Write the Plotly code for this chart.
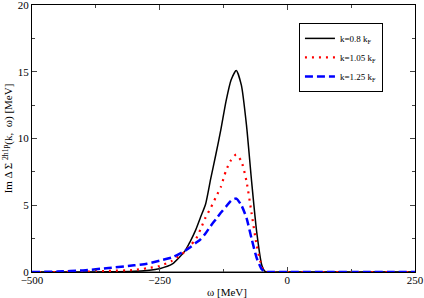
import plotly.graph_objects as go

omega = [-500, -450, -400, -350, -300, -275, -250, -225, -200, -190, -180, -170, -160, -150,
         -140, -130, -120, -110, -100, -90, -80, -70, -60, -50, -45, -40, 0, 250]
k08 = [0, 0, 0, 0.01, 0.05, 0.12, 0.25, 0.6, 1.6, 2.3, 3.1, 4.1, 5.1, 7.0,
       8.8, 10.7, 12.8, 14.4, 15.1, 14.0, 11.0, 6.8, 3.0, 0.5, 0.1, 0, 0, 0]
k105 = [0, 0, 0.02, 0.08, 0.15, 0.28, 0.45, 0.85, 1.55, 2.0, 2.4, 3.2, 4.1, 4.8,
        5.6, 6.4, 7.6, 8.4, 8.8, 8.3, 6.8, 4.4, 2.0, 0.4, 0.05, 0, 0, 0]
k125 = [0, 0.03, 0.12, 0.3, 0.5, 0.62, 0.85, 1.1, 1.6, 1.85, 2.15, 2.45, 2.9, 3.45,
        3.95, 4.45, 4.9, 5.35, 5.5, 5.0, 4.05, 2.5, 1.05, 0.2, 0.05, 0, 0, 0]

names = ["k=0.8 k<sub>F</sub>", "k=1.05 k<sub>F</sub>", "k=1.25 k<sub>F</sub>"]

fig = go.Figure()
fig.add_trace(go.Scatter(x=omega, y=k08, mode="lines", name=names[0],
                         line=dict(color="black", width=1.5, shape="spline", smoothing=0.6)))
fig.add_trace(go.Scatter(x=omega, y=k105, mode="lines", name=names[1],
                         line=dict(color="red", width=2.2, dash="2px,5px", shape="spline", smoothing=0.6)))
fig.add_trace(go.Scatter(x=omega, y=k125, mode="lines", name=names[2],
                         line=dict(color="blue", width=2.5, dash="8px,4px", shape="spline", smoothing=0.6)))

font_family = "Liberation Serif"
fig.add_shape(type="line", xref="paper", yref="y", x0=0, x1=1, y0=0, y1=0,
              line=dict(color="#888888", width=2), layer="below")

fig.add_annotation(text="ω [MeV]", xref="paper", yref="paper", x=0.51, y=0,
                   yshift=-20, xanchor="center", yanchor="middle", showarrow=False,
                   font=dict(family=font_family, size=11))

fig.update_layout(
    width=424, height=298,
    margin=dict(l=32, r=9, t=5, b=26, autoexpand=False),
    paper_bgcolor="white", plot_bgcolor="white",
    font=dict(family=font_family, size=11, color="black"),
    showlegend=True,
    legend=dict(x=0.697, y=0.933, xanchor="left", yanchor="top",
                bgcolor="white", bordercolor="black", borderwidth=1,
                font=dict(family=font_family, size=9),
                tracegroupgap=0, itemwidth=30),
)
fig.update_xaxes(range=[-500, 250], tickvals=[-500, -250, 0, 250],
                 ticks="inside", ticklen=5, tickcolor="#444",
                 minor=dict(tickvals=[-375, -125, 125], ticks="inside", ticklen=3, tickcolor="#444"),
                 showline=True, linecolor="black", linewidth=1, mirror="allticks",
                 showgrid=False, zeroline=False, ticklabeloverflow="allow", automargin=False,
                 ticklabelstandoff=-2)
fig.update_yaxes(range=[0, 20], tickvals=[0, 5, 10, 15, 20],
                 ticks="inside", ticklen=5, tickcolor="#444",
                 minor=dict(tickvals=[2.5, 7.5, 12.5, 17.5], ticks="inside", ticklen=3, tickcolor="#444"),
                 showline=True, linecolor="black", linewidth=1, mirror="allticks",
                 showgrid=False, zeroline=False, ticklabeloverflow="allow", automargin=False,
                 title=dict(text="Im Δ Σ <sup>2h1p</sup>(k,  ω) [MeV]", font=dict(size=11), standoff=2))

fig.write_html("out.html", config={"displayModeBar": False},
               post_script="document.body.style.margin='0';document.body.style.overflow='hidden';")
